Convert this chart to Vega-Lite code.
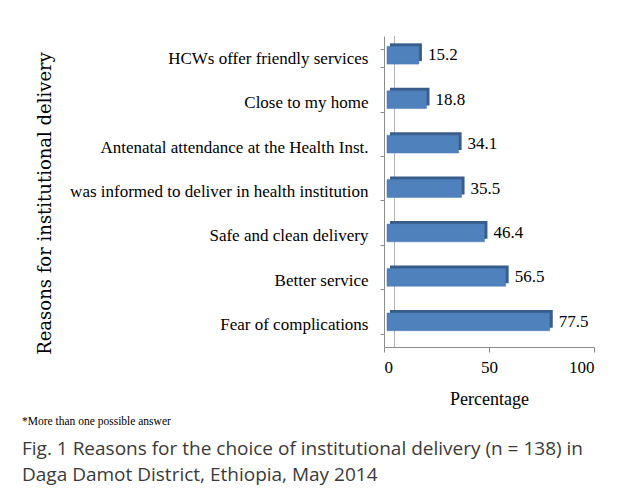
{
  "$schema": "https://vega.github.io/schema/vega-lite/v6.json",
  "width": 210,
  "height": 311,
  "autosize": "none",
  "padding": {"left": 384, "top": 36, "right": 33, "bottom": 151},
  "background": "white",
  "config": {"view": {"stroke": null}},
  "title": {
    "text": "*More than one possible answer",
    "subtitle": ["Fig. 1 Reasons for the choice of institutional delivery (n = 138) in", "Daga Damot District, Ethiopia, May 2014"],
    "orient": "bottom",
    "anchor": "start",
    "frame": "bounds",
    "font": "Liberation Serif",
    "fontSize": 11.5,
    "fontWeight": "normal",
    "color": "#000000",
    "subtitleFont": "Open Sans",
    "subtitleFontSize": 19,
    "subtitleFontWeight": "normal",
    "subtitleColor": "#3a3a3a",
    "subtitleLineHeight": 26,
    "subtitlePadding": 12,
    "offset": 8,
    "dx": -14
  },
  "data": {
    "values": [
      {"reason": "HCWs  offer friendly services", "pct": 15.2},
      {"reason": "Close to my home", "pct": 18.8},
      {"reason": "Antenatal attendance at the Health Inst.", "pct": 34.1},
      {"reason": "was informed to deliver in health institution", "pct": 35.5},
      {"reason": "Safe and clean delivery", "pct": 46.4},
      {"reason": "Better service", "pct": 56.5},
      {"reason": "Fear of complications", "pct": 77.5}
    ]
  },
  "encoding": {
    "y": {
      "field": "reason",
      "type": "nominal",
      "sort": null,
      "scale": {"paddingInner": 0.6, "paddingOuter": 0.3},
      "axis": {
        "title": "Reasons for institutional delivery",
        "titleFont": "DejaVu Serif",
        "titleFontSize": 18,
        "titleFontWeight": "normal",
        "titleColor": "#000000",
        "titleX": -339,
        "titleY": 167,
        "titleBaseline": "middle",
        "titleAlign": "center",
        "labelFont": "Liberation Serif",
        "labelFontSize": 17,
        "labelColor": "#000000",
        "labelPadding": 12,
        "labelLimit": 400,
        "domainColor": "#8c8c8c",
        "tickColor": "#8c8c8c",
        "tickSize": 4,
        "tickBand": "extent"
      }
    },
    "x": {
      "field": "pct",
      "type": "quantitative",
      "scale": {"domain": [0, 100], "nice": false},
      "axis": {
        "title": "Percentage",
        "values": [0, 50, 100],
        "grid": false,
        "domainColor": "#8c8c8c",
        "tickColor": "#8c8c8c",
        "tickSize": 5,
        "labelFont": "Liberation Serif",
        "labelFontSize": 17,
        "labelColor": "#000000",
        "labelPadding": 7,
        "titleFont": "Liberation Serif",
        "titleFontSize": 18,
        "titleFontWeight": "normal",
        "titleColor": "#000000",
        "titlePadding": 15
      }
    }
  },
  "layer": [
    {
      "data": {"values": [{"wall": 5}]},
      "mark": {"type": "rule", "color": "#b3b3b3", "strokeWidth": 1},
      "encoding": {"x": {"field": "wall", "type": "quantitative"}, "y": null}
    },
    {
      "mark": {"type": "bar", "color": "#385d8a", "xOffset": 6, "yOffset": -6}
    },
    {
      "mark": {"type": "bar", "color": "#4f81bd", "stroke": "#4a7ab3", "strokeWidth": 0.5, "xOffset": 3, "yOffset": -3}
    },
    {
      "mark": {"type": "text", "align": "left", "baseline": "middle", "dx": 12, "yOffset": -3, "font": "Liberation Serif", "fontSize": 17, "color": "#000000"},
      "encoding": {"text": {"field": "pct", "type": "quantitative", "format": ".1f"}}
    }
  ]
}
